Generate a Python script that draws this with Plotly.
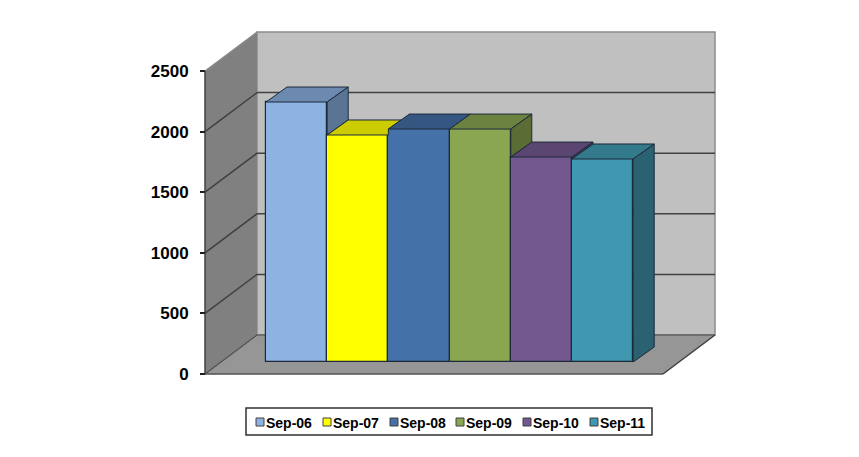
import plotly.graph_objects as go

# Data
categories = ["Sep-06", "Sep-07", "Sep-08", "Sep-09", "Sep-10", "Sep-11"]
values = [2145, 1873, 1922, 1922, 1691, 1675]
tick_values = [0, 500, 1000, 1500, 2000, 2500]
front_colors = ["#8DB3E2", "#FFFF00", "#4571A9", "#8AA651", "#73588F", "#4098B0"]
top_colors = ["#6C8AB0", "#CCCC00", "#355680", "#6C8240", "#5B4672", "#337A8C"]
side_colors = ["#5A7496", "#A8A800", "#2F4C73", "#5B6D35", "#4C3A60", "#2A6272"]

W, H = 859, 457
PX_PER_UNIT = 303 / 2500      # vertical pixels per value unit
Y0_PX = 374                   # pixel row of value 0 on the axis
SLOT_PX = 61.2                # bar width in pixels
X0_PX = 296.6                 # pixel column of first bar's centre
BAR_DX, BAR_DY = 21 / SLOT_PX, 15 / PX_PER_UNIT   # bar depth in axis units
BASE = 12 / PX_PER_UNIT       # bar floor position above axis zero
OUTLINE = "#1E2A3A"
FONT = "Liberation Sans"

def px(x):
    return x / W
def py(y):
    return 1 - y / H

x_range = [(0 - X0_PX) / SLOT_PX, (W - X0_PX) / SLOT_PX]
y_range = [(Y0_PX - H) / PX_PER_UNIT, Y0_PX / PX_PER_UNIT]

fig = go.Figure()
xs = list(range(len(categories)))

fig.add_trace(go.Bar(
    x=xs, y=values, base=BASE, width=1,
    marker=dict(color=front_colors, line=dict(color=OUTLINE, width=1.2)),
    customdata=categories, showlegend=False,
    hovertemplate="%{customdata}: %{y}<extra></extra>",
))

tops = [BASE + v for v in values]
for i, name in enumerate(categories):
    x0, x1, t = i - 0.5, i + 0.5, tops[i]
    nxt = tops[i + 1] if i + 1 < len(tops) else None
    # Top face, clipped against a taller right-hand neighbour
    if nxt is not None and nxt > t:
        k = (t + BAR_DY - nxt) / BAR_DY * BAR_DX
        tx = [x0, x1, x1, x1 + k, x0 + BAR_DX, x0]
        ty = [t, t, nxt, t + BAR_DY, t + BAR_DY, t]
    else:
        tx = [x0, x1, x1 + BAR_DX, x0 + BAR_DX, x0]
        ty = [t, t, t + BAR_DY, t + BAR_DY, t]
    fig.add_trace(go.Scatter(x=tx, y=ty, mode="lines", fill="toself", fillcolor=top_colors[i],
                             line=dict(color=OUTLINE, width=1), showlegend=False, hoverinfo="skip"))
    # Side face: only the part rising above the neighbour is visible
    low = BASE if nxt is None else nxt
    if low < t:
        sx = [x1, x1 + BAR_DX, x1 + BAR_DX, x1, x1]
        sy = [t, t + BAR_DY, low + BAR_DY, low, t]
        fig.add_trace(go.Scatter(x=sx, y=sy, mode="lines", fill="toself", fillcolor=side_colors[i],
                                 line=dict(color=OUTLINE, width=1), showlegend=False, hoverinfo="skip"))

def poly(pts, fill, line="rgba(0,0,0,0)", width=0):
    path = "M" + "L".join(f"{px(a):.5f},{py(b):.5f}" for a, b in pts) + "Z"
    return dict(type="path", path=path, xref="paper", yref="paper", fillcolor=fill,
                line=dict(color=line, width=width), layer="below")

def seg(a, b, c, d, color="#404040", width=1.5, layer="below"):
    return dict(type="line", xref="paper", yref="paper", x0=px(a), y0=py(b), x1=px(c), y1=py(d),
                line=dict(color=color, width=width), layer=layer)

WL, WR, WT, WB = 257, 715, 32, 335
SL, ST, SB, FR = 205, 71, 374, 663
shapes = [
    poly([(WL, WT), (WR, WT), (WR, WB), (WL, WB)], "#C0C0C0", "#8C8C8C", 1.5),
    poly([(SL, ST), (WL, WT), (WL, WB), (SL, SB)], "#808080"),
    poly([(SL, SB), (WL, WB), (WR, WB), (FR, SB)], "#969696"),
    seg(SL, ST, WL, WT, "#8C8C8C", 1.2),
    seg(SL, SB, WL, WB, "#505050", 1.2),
    seg(WL, WB, WR, WB, "#606060", 1.5),
    seg(SL, SB, FR, SB, "#505050", 1.5),
    seg(FR, SB, WR, WB, "#404040", 1.5),
    seg(SL, ST, SL, SB, "#404040", 1.5),
]
for v in tick_values[1:-1]:
    dy = v * PX_PER_UNIT
    shapes.append(seg(SL, SB - dy, WL, WB - dy))
    shapes.append(seg(WL, WB - dy, WR, WB - dy))

# Legend, built from the category names
LX = [256, 323, 390, 456, 523, 590]
shapes.append(dict(type="rect", xref="paper", yref="paper", x0=px(246), x1=px(652), y0=py(435), y1=py(408),
                   line=dict(color="#303030", width=1.5), fillcolor="white", layer="below"))
annotations = []
for i, name in enumerate(categories):
    shapes.append(dict(type="rect", xref="paper", yref="paper", x0=px(LX[i]), x1=px(LX[i] + 8),
                       y0=py(426), y1=py(418), fillcolor=front_colors[i],
                       line=dict(color="#404040", width=1), layer="below"))
    annotations.append(dict(text=f"<b>{name}</b>", xref="paper", yref="paper", x=px(LX[i] + 8), y=py(423),
                            xanchor="left", yanchor="middle", showarrow=False,
                            font=dict(family=FONT, size=14, color="black")))

fig.update_layout(
    width=W, height=H, margin=dict(l=0, r=0, t=0, b=0), autosize=False,
    paper_bgcolor="white", plot_bgcolor="rgba(0,0,0,0)", showlegend=False,
    bargap=0, shapes=shapes, annotations=annotations,
    xaxis=dict(range=x_range, domain=[0, 1], visible=False, fixedrange=True),
    yaxis=dict(range=y_range, domain=[0, 1], anchor="free", position=px(SL), side="left",
               tickmode="array", tickvals=tick_values, ticktext=[f"<b>{v}</b>" for v in tick_values],
               ticks="outside", ticklen=5, tickwidth=1.5, tickcolor="#202020", ticklabelstandoff=8,
               showgrid=False, zeroline=False, showline=False, fixedrange=True,
               tickfont=dict(family=FONT, size=17, color="black")),
)
fig.write_html("out.html", config=dict(displayModeBar=False),
               post_script="document.body.style.margin='0';")
